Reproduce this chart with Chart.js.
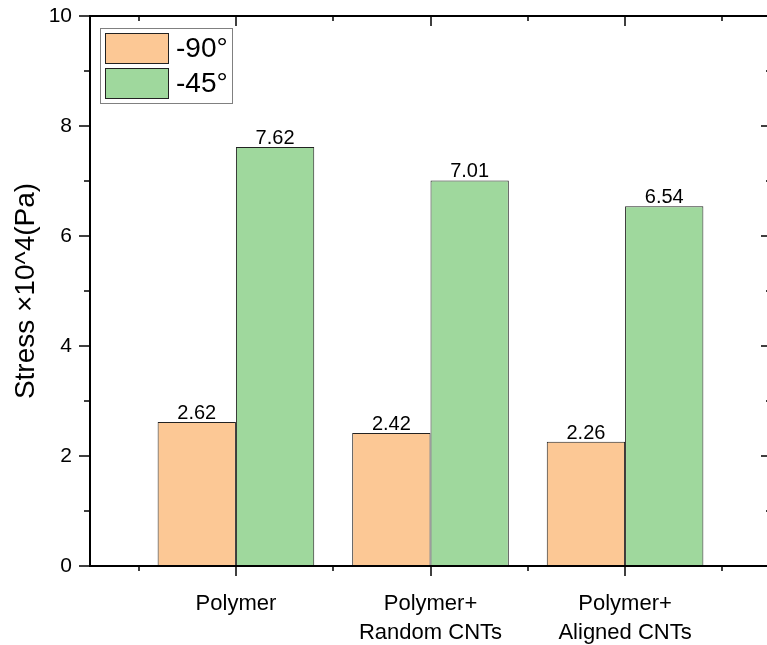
<!DOCTYPE html>
<html>
<head>
<meta charset="utf-8">
<script src="https://cdn.jsdelivr.net/npm/chart.js@4.4.1/dist/chart.umd.min.js"></script>
<style>
  html, body { margin: 0; padding: 0; background: #fff; overflow: hidden; }
  #wrap { width: 767px; height: 645px; overflow: hidden; }
</style>
</head>
<body>
<div id="wrap"><canvas id="chart" width="780" height="645"></canvas></div>
<script>
// -------------------------
// Data
// -------------------------
const categories = [["Polymer"], ["Polymer+", "Random CNTs"], ["Polymer+", "Aligned CNTs"]];
const seriesNames = ["-90°", "-45°"];
const stress90 = [2.62, 2.42, 2.26];
const stress45 = [7.62, 7.01, 6.54];
const yTicks = [0, 2, 4, 6, 8, 10];
const yMinorTicks = [1, 3, 5, 7, 9];
const xMajorTicks = [1, 2, 3];
const xMinorTicks = [0.5, 1.5, 2.5, 3.5];

const colors = ["#FCC895", "#9FD89D"];
const FONT = "'Liberation Sans', Arial, sans-serif";

const toPoints = arr => arr.map((v, i) => ({ x: i + 1, y: v }));

// -------------------------
// Frame + ticks (Origin style)
// -------------------------
const framePlugin = {
    id: "frame",
    afterDraw(chart) {
        const { ctx, chartArea: a, scales } = chart;
        const xs = scales.x, ys = scales.y;
        ctx.save();
        ctx.strokeStyle = "#000";
        ctx.lineWidth = 2;
        ctx.beginPath();
        ctx.rect(a.left, a.top, a.right - a.left, a.bottom - a.top);
        ctx.stroke();

        ctx.lineWidth = 1.5;
        ctx.beginPath();
        // bottom (outward) and top (inward)
        xMajorTicks.forEach(v => {
            const px = Math.round(xs.getPixelForValue(v));
            ctx.moveTo(px, a.bottom); ctx.lineTo(px, a.bottom + 10);
            ctx.moveTo(px, a.top); ctx.lineTo(px, a.top + 10);
        });
        xMinorTicks.forEach(v => {
            const px = Math.round(xs.getPixelForValue(v));
            ctx.moveTo(px, a.bottom); ctx.lineTo(px, a.bottom + 5);
            ctx.moveTo(px, a.top); ctx.lineTo(px, a.top + 5);
        });
        // left (outward) and right (inward)
        yTicks.forEach(v => {
            const py = Math.round(ys.getPixelForValue(v));
            ctx.moveTo(a.left - 11, py); ctx.lineTo(a.left, py);
            ctx.moveTo(a.right - 10, py); ctx.lineTo(a.right, py);
        });
        yMinorTicks.forEach(v => {
            const py = Math.round(ys.getPixelForValue(v));
            ctx.moveTo(a.left - 6, py); ctx.lineTo(a.left, py);
            ctx.moveTo(a.right - 5, py); ctx.lineTo(a.right, py);
        });
        ctx.stroke();
        ctx.restore();
    }
};

// -------------------------
// Value labels on bars
// -------------------------
const valueLabels = {
    id: "valueLabels",
    afterDatasetsDraw(chart) {
        const { ctx } = chart;
        ctx.save();
        ctx.fillStyle = "#000";
        ctx.font = "20px " + FONT;
        ctx.textAlign = "center";
        ctx.textBaseline = "alphabetic";
        chart.data.datasets.forEach((ds, di) => {
            chart.getDatasetMeta(di).data.forEach((bar, i) => {
                ctx.fillText(ds.data[i].y.toFixed(2), bar.x, bar.y - 3);
            });
        });
        ctx.restore();
    }
};

// -------------------------
// Legend box inside plot
// -------------------------
const legendBox = {
    id: "legendBox",
    afterDraw(chart) {
        const { ctx } = chart;
        ctx.save();
        ctx.fillStyle = "#fff";
        ctx.fillRect(100.5, 28.5, 132, 75);
        ctx.strokeStyle = "#808080";
        ctx.lineWidth = 1;
        ctx.strokeRect(100.5, 28.5, 132, 75);
        chart.data.datasets.forEach((ds, i) => {
            const y = 33.5 + i * 35;
            ctx.fillStyle = ds.backgroundColor;
            ctx.fillRect(105.5, y, 63, 30);
            ctx.strokeStyle = "#222";
            ctx.strokeRect(105.5, y, 63, 30);
            ctx.fillStyle = "#000";
            ctx.font = "28px " + FONT;
            ctx.textAlign = "left";
            ctx.textBaseline = "middle";
            ctx.fillText(ds.label, 176, y + 16);
        });
        ctx.restore();
    }
};

new Chart(document.getElementById("chart"), {
    type: "bar",
    data: {
        datasets: [
            { label: seriesNames[0], data: toPoints(stress90), backgroundColor: colors[0], borderColor: "#222", borderWidth: 1 },
            { label: seriesNames[1], data: toPoints(stress45), backgroundColor: colors[1], borderColor: "#222", borderWidth: 1 }
        ]
    },
    options: {
        responsive: false,
        animation: false,
        devicePixelRatio: 1,
        categoryPercentage: 0.805,
        barPercentage: 1,
        layout: { padding: { left: 0, top: 16, right: 9, bottom: 0 } },
        plugins: {
            legend: { display: false },
            tooltip: { enabled: false }
        },
        scales: {
            x: {
                type: "linear",
                min: 0.25,
                max: 3.75,
                offset: false,
                grid: { display: false, drawTicks: false, offset: false },
                border: { display: false },
                afterBuildTicks: s => { s.ticks = xMajorTicks.map(v => ({ value: v })); },
                afterFit: s => { s.height = 79; s.paddingLeft = 0; s.paddingRight = 0; },
                ticks: {
                    padding: 24,
                    color: "#000",
                    maxRotation: 0,
                    autoSkip: false,
                    font: { family: FONT, size: 22, lineHeight: 1.3 },
                    callback: v => categories[v - 1]
                }
            },
            y: {
                min: 0,
                max: 10,
                grid: { display: false, drawTicks: false },
                border: { display: false },
                afterBuildTicks: s => { s.ticks = yTicks.map(v => ({ value: v })); },
                afterFit: s => { s.width = 90; s.paddingTop = 0; s.paddingBottom = 0; },
                ticks: {
                    padding: 18,
                    color: "#000",
                    font: { family: FONT, size: 21 }
                },
                title: {
                    display: true,
                    text: "Stress ×10^4(Pa)",
                    color: "#000",
                    font: { family: FONT, size: 28 },
                    padding: { top: 9, bottom: 0 }
                }
            }
        }
    },
    plugins: [framePlugin, valueLabels, legendBox]
});
</script>
</body>
</html>
